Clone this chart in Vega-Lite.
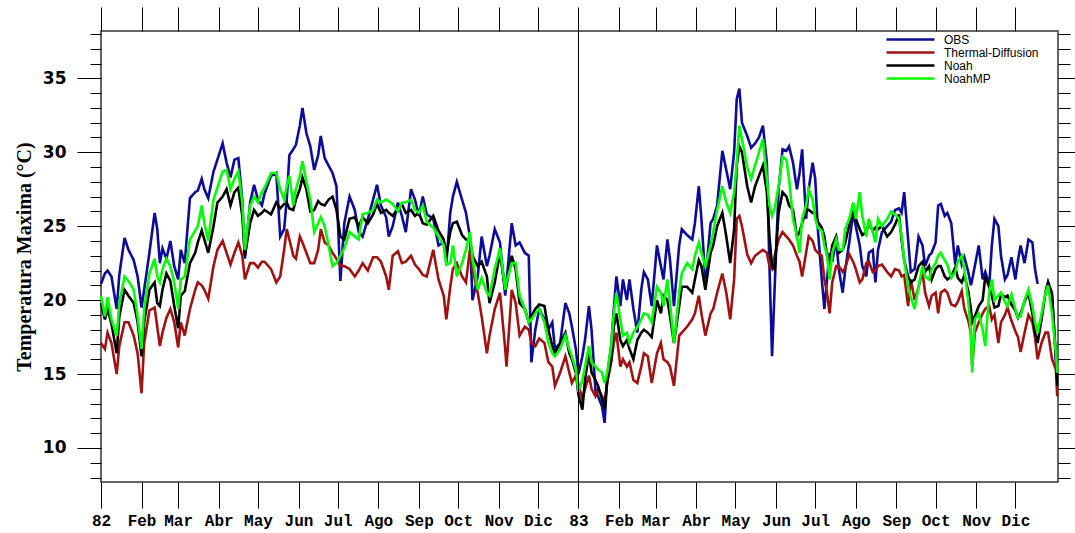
{
  "$schema": "https://vega.github.io/schema/vega-lite/v6.json",
  "width": 957,
  "height": 451,
  "autosize": {"type": "none"},
  "padding": {"left": 101, "top": 31, "right": 17, "bottom": 51},
  "background": "white",
  "config": {
    "view": {"stroke": "#333333", "strokeWidth": 1.5},
    "axis": {"tickWidth": 1, "tickColor": "black", "domain": false, "grid": false},
    "font": "Liberation Sans"
  },
  "datasets": {
    "temps": [
      {"date":"1982-01-01","OBS":21.1,"Thermal-Diffusion":17.1,"Noah":19.8,"NoahMP":20.3},
      {"date":"1982-01-04","OBS":21.8,"Thermal-Diffusion":16.7,"Noah":18.7,"NoahMP":18.9},
      {"date":"1982-01-06","OBS":22.0,"Thermal-Diffusion":17.8,"Noah":19.4,"NoahMP":20.2},
      {"date":"1982-01-09","OBS":21.6,"Thermal-Diffusion":17.1,"Noah":18.4,"NoahMP":18.7},
      {"date":"1982-01-13","OBS":19.4,"Thermal-Diffusion":15.0,"Noah":16.4,"NoahMP":17.6},
      {"date":"1982-01-15","OBS":21.7,"Thermal-Diffusion":16.9,"Noah":18.9,"NoahMP":19.8},
      {"date":"1982-01-19","OBS":24.2,"Thermal-Diffusion":18.5,"Noah":20.7,"NoahMP":21.6},
      {"date":"1982-01-22","OBS":23.4,"Thermal-Diffusion":18.5,"Noah":20.3,"NoahMP":21.3},
      {"date":"1982-01-26","OBS":22.7,"Thermal-Diffusion":17.6,"Noah":19.8,"NoahMP":20.7},
      {"date":"1982-01-29","OBS":21.6,"Thermal-Diffusion":16.4,"Noah":18.5,"NoahMP":18.9},
      {"date":"1982-02-01","OBS":19.5,"Thermal-Diffusion":13.7,"Noah":16.2,"NoahMP":16.7},
      {"date":"1982-02-03","OBS":20.7,"Thermal-Diffusion":17.1,"Noah":18.5,"NoahMP":19.4},
      {"date":"1982-02-07","OBS":23.2,"Thermal-Diffusion":19.3,"Noah":20.7,"NoahMP":21.8},
      {"date":"1982-02-11","OBS":25.9,"Thermal-Diffusion":19.5,"Noah":21.2,"NoahMP":22.8},
      {"date":"1982-02-13","OBS":24.8,"Thermal-Diffusion":18.2,"Noah":19.8,"NoahMP":21.6},
      {"date":"1982-02-15","OBS":22.5,"Thermal-Diffusion":16.9,"Noah":19.6,"NoahMP":21.2},
      {"date":"1982-02-17","OBS":23.5,"Thermal-Diffusion":17.8,"Noah":20.7,"NoahMP":22.1},
      {"date":"1982-02-20","OBS":22.8,"Thermal-Diffusion":18.8,"Noah":21.8,"NoahMP":22.8},
      {"date":"1982-02-23","OBS":24.0,"Thermal-Diffusion":19.4,"Noah":21.3,"NoahMP":22.3},
      {"date":"1982-02-26","OBS":22.3,"Thermal-Diffusion":18.5,"Noah":19.6,"NoahMP":21.2},
      {"date":"1982-03-01","OBS":21.4,"Thermal-Diffusion":16.8,"Noah":18.1,"NoahMP":19.4},
      {"date":"1982-03-03","OBS":23.4,"Thermal-Diffusion":18.5,"Noah":20.3,"NoahMP":21.4},
      {"date":"1982-03-06","OBS":22.5,"Thermal-Diffusion":17.6,"Noah":20.6,"NoahMP":21.6},
      {"date":"1982-03-10","OBS":26.9,"Thermal-Diffusion":19.4,"Noah":22.5,"NoahMP":24.1},
      {"date":"1982-03-14","OBS":27.3,"Thermal-Diffusion":20.7,"Noah":23.2,"NoahMP":24.7},
      {"date":"1982-03-16","OBS":27.4,"Thermal-Diffusion":21.2,"Noah":23.9,"NoahMP":25.0},
      {"date":"1982-03-19","OBS":28.2,"Thermal-Diffusion":21.0,"Noah":24.7,"NoahMP":26.4},
      {"date":"1982-03-21","OBS":27.5,"Thermal-Diffusion":20.7,"Noah":24.1,"NoahMP":25.2},
      {"date":"1982-03-24","OBS":26.9,"Thermal-Diffusion":20.1,"Noah":23.2,"NoahMP":24.0},
      {"date":"1982-03-28","OBS":28.7,"Thermal-Diffusion":22.3,"Noah":25.0,"NoahMP":26.8},
      {"date":"1982-03-31","OBS":29.5,"Thermal-Diffusion":23.4,"Noah":26.6,"NoahMP":27.6},
      {"date":"1982-04-04","OBS":30.6,"Thermal-Diffusion":24.0,"Noah":27.0,"NoahMP":28.7},
      {"date":"1982-04-07","OBS":29.3,"Thermal-Diffusion":23.2,"Noah":27.5,"NoahMP":28.8},
      {"date":"1982-04-10","OBS":28.3,"Thermal-Diffusion":22.4,"Noah":26.4,"NoahMP":27.5},
      {"date":"1982-04-13","OBS":29.5,"Thermal-Diffusion":23.2,"Noah":27.3,"NoahMP":28.2},
      {"date":"1982-04-16","OBS":29.6,"Thermal-Diffusion":23.9,"Noah":27.6,"NoahMP":28.7},
      {"date":"1982-04-19","OBS":26.8,"Thermal-Diffusion":23.0,"Noah":25.7,"NoahMP":26.6},
      {"date":"1982-04-21","OBS":22.8,"Thermal-Diffusion":21.4,"Noah":23.0,"NoahMP":23.4},
      {"date":"1982-04-25","OBS":26.6,"Thermal-Diffusion":22.5,"Noah":25.2,"NoahMP":26.4},
      {"date":"1982-04-28","OBS":27.8,"Thermal-Diffusion":22.5,"Noah":26.1,"NoahMP":27.0},
      {"date":"1982-05-01","OBS":26.8,"Thermal-Diffusion":22.2,"Noah":25.7,"NoahMP":26.6},
      {"date":"1982-05-04","OBS":26.4,"Thermal-Diffusion":22.6,"Noah":25.9,"NoahMP":27.3},
      {"date":"1982-05-06","OBS":27.2,"Thermal-Diffusion":22.6,"Noah":26.1,"NoahMP":27.6},
      {"date":"1982-05-11","OBS":28.4,"Thermal-Diffusion":22.1,"Noah":25.8,"NoahMP":28.6},
      {"date":"1982-05-15","OBS":28.6,"Thermal-Diffusion":21.2,"Noah":26.6,"NoahMP":28.6},
      {"date":"1982-05-18","OBS":24.3,"Thermal-Diffusion":21.6,"Noah":26.2,"NoahMP":27.5},
      {"date":"1982-05-21","OBS":24.8,"Thermal-Diffusion":23.4,"Noah":26.5,"NoahMP":26.8},
      {"date":"1982-05-23","OBS":26.8,"Thermal-Diffusion":24.8,"Noah":26.6,"NoahMP":27.7},
      {"date":"1982-05-25","OBS":29.8,"Thermal-Diffusion":24.1,"Noah":26.2,"NoahMP":28.4},
      {"date":"1982-05-28","OBS":30.2,"Thermal-Diffusion":23.0,"Noah":26.1,"NoahMP":26.4},
      {"date":"1982-05-30","OBS":30.5,"Thermal-Diffusion":22.8,"Noah":26.8,"NoahMP":27.5},
      {"date":"1982-06-02","OBS":31.8,"Thermal-Diffusion":24.3,"Noah":27.5,"NoahMP":28.4},
      {"date":"1982-06-04","OBS":33.0,"Thermal-Diffusion":23.9,"Noah":28.3,"NoahMP":29.4},
      {"date":"1982-06-07","OBS":31.3,"Thermal-Diffusion":23.2,"Noah":27.5,"NoahMP":28.0},
      {"date":"1982-06-10","OBS":30.4,"Thermal-Diffusion":22.5,"Noah":26.0,"NoahMP":26.8},
      {"date":"1982-06-13","OBS":28.8,"Thermal-Diffusion":22.5,"Noah":26.1,"NoahMP":24.6},
      {"date":"1982-06-16","OBS":29.8,"Thermal-Diffusion":23.4,"Noah":26.7,"NoahMP":25.2},
      {"date":"1982-06-18","OBS":31.1,"Thermal-Diffusion":24.8,"Noah":26.5,"NoahMP":25.6},
      {"date":"1982-06-21","OBS":29.6,"Thermal-Diffusion":23.9,"Noah":26.4,"NoahMP":25.0},
      {"date":"1982-06-24","OBS":29.1,"Thermal-Diffusion":23.7,"Noah":26.8,"NoahMP":23.7},
      {"date":"1982-06-27","OBS":28.6,"Thermal-Diffusion":23.2,"Noah":27.0,"NoahMP":22.3},
      {"date":"1982-06-30","OBS":27.7,"Thermal-Diffusion":22.8,"Noah":26.1,"NoahMP":22.5},
      {"date":"1982-07-03","OBS":21.3,"Thermal-Diffusion":22.3,"Noah":24.3,"NoahMP":23.0},
      {"date":"1982-07-06","OBS":25.2,"Thermal-Diffusion":22.3,"Noah":24.1,"NoahMP":23.5},
      {"date":"1982-07-10","OBS":27.0,"Thermal-Diffusion":22.1,"Noah":25.5,"NoahMP":24.6},
      {"date":"1982-07-14","OBS":26.1,"Thermal-Diffusion":21.6,"Noah":25.6,"NoahMP":24.3},
      {"date":"1982-07-17","OBS":24.6,"Thermal-Diffusion":22.0,"Noah":25.0,"NoahMP":24.1},
      {"date":"1982-07-20","OBS":24.3,"Thermal-Diffusion":22.5,"Noah":25.6,"NoahMP":25.8},
      {"date":"1982-07-24","OBS":25.5,"Thermal-Diffusion":22.0,"Noah":25.2,"NoahMP":25.9},
      {"date":"1982-07-28","OBS":26.8,"Thermal-Diffusion":22.9,"Noah":25.8,"NoahMP":26.1},
      {"date":"1982-07-31","OBS":27.8,"Thermal-Diffusion":22.9,"Noah":26.5,"NoahMP":26.8},
      {"date":"1982-08-03","OBS":26.4,"Thermal-Diffusion":22.6,"Noah":25.9,"NoahMP":26.6},
      {"date":"1982-08-07","OBS":25.6,"Thermal-Diffusion":21.6,"Noah":26.1,"NoahMP":26.8},
      {"date":"1982-08-09","OBS":24.3,"Thermal-Diffusion":20.7,"Noah":25.9,"NoahMP":26.7},
      {"date":"1982-08-12","OBS":25.0,"Thermal-Diffusion":23.0,"Noah":25.7,"NoahMP":26.5},
      {"date":"1982-08-16","OBS":26.6,"Thermal-Diffusion":23.3,"Noah":26.2,"NoahMP":26.0},
      {"date":"1982-08-19","OBS":25.7,"Thermal-Diffusion":22.5,"Noah":26.5,"NoahMP":26.6},
      {"date":"1982-08-22","OBS":24.6,"Thermal-Diffusion":22.6,"Noah":25.9,"NoahMP":26.6},
      {"date":"1982-08-26","OBS":27.5,"Thermal-Diffusion":23.0,"Noah":26.1,"NoahMP":26.8},
      {"date":"1982-08-29","OBS":26.8,"Thermal-Diffusion":22.4,"Noah":25.7,"NoahMP":26.1},
      {"date":"1982-09-01","OBS":25.7,"Thermal-Diffusion":22.1,"Noah":25.9,"NoahMP":25.9},
      {"date":"1982-09-04","OBS":27.0,"Thermal-Diffusion":21.7,"Noah":25.2,"NoahMP":26.4},
      {"date":"1982-09-07","OBS":25.8,"Thermal-Diffusion":21.6,"Noah":25.1,"NoahMP":25.3},
      {"date":"1982-09-12","OBS":25.5,"Thermal-Diffusion":23.4,"Noah":25.7,"NoahMP":24.9},
      {"date":"1982-09-16","OBS":23.7,"Thermal-Diffusion":21.4,"Noah":24.7,"NoahMP":24.3},
      {"date":"1982-09-20","OBS":23.9,"Thermal-Diffusion":20.3,"Noah":24.1,"NoahMP":23.7},
      {"date":"1982-09-22","OBS":22.5,"Thermal-Diffusion":18.7,"Noah":23.0,"NoahMP":22.4},
      {"date":"1982-09-25","OBS":25.9,"Thermal-Diffusion":20.9,"Noah":24.6,"NoahMP":22.5},
      {"date":"1982-09-27","OBS":27.0,"Thermal-Diffusion":22.1,"Noah":25.2,"NoahMP":23.7},
      {"date":"1982-09-30","OBS":28.0,"Thermal-Diffusion":22.5,"Noah":25.3,"NoahMP":21.6},
      {"date":"1982-10-04","OBS":26.8,"Thermal-Diffusion":21.6,"Noah":24.4,"NoahMP":22.5},
      {"date":"1982-10-07","OBS":25.9,"Thermal-Diffusion":21.2,"Noah":24.1,"NoahMP":23.4},
      {"date":"1982-10-10","OBS":24.3,"Thermal-Diffusion":23.4,"Noah":24.1,"NoahMP":24.6},
      {"date":"1982-10-12","OBS":20.0,"Thermal-Diffusion":22.1,"Noah":23.0,"NoahMP":22.8},
      {"date":"1982-10-16","OBS":21.6,"Thermal-Diffusion":20.5,"Noah":22.3,"NoahMP":20.7},
      {"date":"1982-10-19","OBS":24.3,"Thermal-Diffusion":18.9,"Noah":22.6,"NoahMP":21.5},
      {"date":"1982-10-23","OBS":22.3,"Thermal-Diffusion":16.4,"Noah":21.6,"NoahMP":20.5},
      {"date":"1982-10-25","OBS":23.0,"Thermal-Diffusion":17.6,"Noah":19.8,"NoahMP":20.3},
      {"date":"1982-10-29","OBS":24.8,"Thermal-Diffusion":19.4,"Noah":21.2,"NoahMP":22.1},
      {"date":"1982-11-02","OBS":23.9,"Thermal-Diffusion":20.5,"Noah":23.2,"NoahMP":23.5},
      {"date":"1982-11-06","OBS":20.3,"Thermal-Diffusion":16.7,"Noah":20.7,"NoahMP":20.7},
      {"date":"1982-11-07","OBS":21.2,"Thermal-Diffusion":15.5,"Noah":21.0,"NoahMP":21.2},
      {"date":"1982-11-11","OBS":25.2,"Thermal-Diffusion":20.7,"Noah":23.0,"NoahMP":22.5},
      {"date":"1982-11-14","OBS":23.7,"Thermal-Diffusion":19.8,"Noah":22.1,"NoahMP":22.5},
      {"date":"1982-11-17","OBS":23.9,"Thermal-Diffusion":17.6,"Noah":19.8,"NoahMP":20.3},
      {"date":"1982-11-21","OBS":23.2,"Thermal-Diffusion":18.2,"Noah":19.4,"NoahMP":19.4},
      {"date":"1982-11-24","OBS":23.0,"Thermal-Diffusion":18.0,"Noah":18.5,"NoahMP":18.5},
      {"date":"1982-11-26","OBS":15.8,"Thermal-Diffusion":17.1,"Noah":18.9,"NoahMP":18.7},
      {"date":"1982-11-29","OBS":18.0,"Thermal-Diffusion":16.9,"Noah":19.4,"NoahMP":19.1},
      {"date":"1982-12-02","OBS":19.4,"Thermal-Diffusion":17.4,"Noah":19.7,"NoahMP":19.4},
      {"date":"1982-12-06","OBS":18.7,"Thermal-Diffusion":17.1,"Noah":19.6,"NoahMP":18.5},
      {"date":"1982-12-09","OBS":18.0,"Thermal-Diffusion":15.8,"Noah":18.0,"NoahMP":17.1},
      {"date":"1982-12-12","OBS":18.5,"Thermal-Diffusion":15.5,"Noah":16.9,"NoahMP":16.4},
      {"date":"1982-12-14","OBS":16.7,"Thermal-Diffusion":14.2,"Noah":16.4,"NoahMP":16.2},
      {"date":"1982-12-18","OBS":17.1,"Thermal-Diffusion":15.1,"Noah":17.1,"NoahMP":16.7},
      {"date":"1982-12-22","OBS":19.8,"Thermal-Diffusion":16.2,"Noah":17.8,"NoahMP":17.6},
      {"date":"1982-12-25","OBS":19.1,"Thermal-Diffusion":15.1,"Noah":16.4,"NoahMP":16.7},
      {"date":"1982-12-27","OBS":18.2,"Thermal-Diffusion":14.4,"Noah":16.0,"NoahMP":16.2},
      {"date":"1982-12-30","OBS":16.7,"Thermal-Diffusion":14.9,"Noah":15.1,"NoahMP":15.3},
      {"date":"1983-01-01","OBS":15.0,"Thermal-Diffusion":14.3,"Noah":13.6,"NoahMP":13.8},
      {"date":"1983-01-04","OBS":16.2,"Thermal-Diffusion":13.3,"Noah":12.6,"NoahMP":14.6},
      {"date":"1983-01-06","OBS":17.3,"Thermal-Diffusion":14.0,"Noah":14.6,"NoahMP":15.5},
      {"date":"1983-01-09","OBS":19.6,"Thermal-Diffusion":14.9,"Noah":16.4,"NoahMP":16.9},
      {"date":"1983-01-11","OBS":18.0,"Thermal-Diffusion":14.0,"Noah":15.1,"NoahMP":15.8},
      {"date":"1983-01-14","OBS":13.9,"Thermal-Diffusion":13.5,"Noah":14.6,"NoahMP":15.5},
      {"date":"1983-01-16","OBS":13.5,"Thermal-Diffusion":14.0,"Noah":14.2,"NoahMP":15.3},
      {"date":"1983-01-19","OBS":12.8,"Thermal-Diffusion":13.5,"Noah":13.3,"NoahMP":15.1},
      {"date":"1983-01-21","OBS":11.7,"Thermal-Diffusion":13.1,"Noah":12.6,"NoahMP":14.4},
      {"date":"1983-01-23","OBS":14.9,"Thermal-Diffusion":14.4,"Noah":14.6,"NoahMP":15.1},
      {"date":"1983-01-26","OBS":16.9,"Thermal-Diffusion":15.8,"Noah":16.0,"NoahMP":16.9},
      {"date":"1983-01-28","OBS":19.4,"Thermal-Diffusion":17.1,"Noah":18.2,"NoahMP":19.1},
      {"date":"1983-01-30","OBS":21.6,"Thermal-Diffusion":17.8,"Noah":19.1,"NoahMP":20.5},
      {"date":"1983-02-02","OBS":19.6,"Thermal-Diffusion":15.5,"Noah":17.3,"NoahMP":18.7},
      {"date":"1983-02-04","OBS":21.4,"Thermal-Diffusion":16.0,"Noah":16.9,"NoahMP":17.6},
      {"date":"1983-02-07","OBS":20.0,"Thermal-Diffusion":15.5,"Noah":17.3,"NoahMP":17.8},
      {"date":"1983-02-09","OBS":21.4,"Thermal-Diffusion":15.8,"Noah":16.7,"NoahMP":17.1},
      {"date":"1983-02-12","OBS":19.4,"Thermal-Diffusion":14.6,"Noah":16.0,"NoahMP":17.8},
      {"date":"1983-02-15","OBS":17.8,"Thermal-Diffusion":14.4,"Noah":17.3,"NoahMP":18.2},
      {"date":"1983-02-18","OBS":20.7,"Thermal-Diffusion":15.5,"Noah":17.8,"NoahMP":18.7},
      {"date":"1983-02-20","OBS":21.9,"Thermal-Diffusion":16.4,"Noah":18.0,"NoahMP":19.1},
      {"date":"1983-02-23","OBS":21.4,"Thermal-Diffusion":16.2,"Noah":17.8,"NoahMP":19.0},
      {"date":"1983-02-26","OBS":19.6,"Thermal-Diffusion":14.4,"Noah":17.5,"NoahMP":18.5},
      {"date":"1983-03-02","OBS":23.7,"Thermal-Diffusion":16.4,"Noah":20.0,"NoahMP":20.9},
      {"date":"1983-03-05","OBS":22.3,"Thermal-Diffusion":17.1,"Noah":19.1,"NoahMP":20.5},
      {"date":"1983-03-07","OBS":21.4,"Thermal-Diffusion":16.0,"Noah":20.3,"NoahMP":19.6},
      {"date":"1983-03-10","OBS":24.1,"Thermal-Diffusion":15.8,"Noah":20.0,"NoahMP":21.4},
      {"date":"1983-03-12","OBS":22.7,"Thermal-Diffusion":15.5,"Noah":18.9,"NoahMP":19.8},
      {"date":"1983-03-15","OBS":19.6,"Thermal-Diffusion":14.2,"Noah":17.1,"NoahMP":17.1},
      {"date":"1983-03-19","OBS":23.7,"Thermal-Diffusion":17.6,"Noah":19.6,"NoahMP":20.5},
      {"date":"1983-03-21","OBS":24.8,"Thermal-Diffusion":17.8,"Noah":20.9,"NoahMP":21.8},
      {"date":"1983-03-25","OBS":24.4,"Thermal-Diffusion":18.2,"Noah":20.9,"NoahMP":22.5},
      {"date":"1983-03-29","OBS":24.1,"Thermal-Diffusion":18.7,"Noah":20.5,"NoahMP":22.1},
      {"date":"1983-03-31","OBS":25.2,"Thermal-Diffusion":19.1,"Noah":21.4,"NoahMP":23.0},
      {"date":"1983-04-03","OBS":27.7,"Thermal-Diffusion":20.3,"Noah":22.7,"NoahMP":23.9},
      {"date":"1983-04-05","OBS":25.5,"Thermal-Diffusion":19.1,"Noah":22.3,"NoahMP":23.2},
      {"date":"1983-04-08","OBS":21.4,"Thermal-Diffusion":17.6,"Noah":20.7,"NoahMP":22.3},
      {"date":"1983-04-12","OBS":25.2,"Thermal-Diffusion":19.1,"Noah":23.2,"NoahMP":23.7},
      {"date":"1983-04-14","OBS":25.5,"Thermal-Diffusion":19.4,"Noah":23.7,"NoahMP":24.6},
      {"date":"1983-04-17","OBS":26.4,"Thermal-Diffusion":20.5,"Noah":25.0,"NoahMP":26.1},
      {"date":"1983-04-21","OBS":30.1,"Thermal-Diffusion":21.8,"Noah":25.9,"NoahMP":27.7},
      {"date":"1983-04-24","OBS":28.8,"Thermal-Diffusion":20.5,"Noah":24.3,"NoahMP":26.6},
      {"date":"1983-04-27","OBS":27.5,"Thermal-Diffusion":18.7,"Noah":22.5,"NoahMP":25.9},
      {"date":"1983-04-30","OBS":30.0,"Thermal-Diffusion":21.4,"Noah":24.8,"NoahMP":27.3},
      {"date":"1983-05-02","OBS":33.6,"Thermal-Diffusion":25.5,"Noah":29.1,"NoahMP":29.3},
      {"date":"1983-05-04","OBS":34.3,"Thermal-Diffusion":25.7,"Noah":30.4,"NoahMP":31.8},
      {"date":"1983-05-06","OBS":32.0,"Thermal-Diffusion":25.0,"Noah":30.0,"NoahMP":30.9},
      {"date":"1983-05-10","OBS":31.1,"Thermal-Diffusion":23.1,"Noah":27.7,"NoahMP":29.0},
      {"date":"1983-05-13","OBS":30.3,"Thermal-Diffusion":22.5,"Noah":26.6,"NoahMP":28.2},
      {"date":"1983-05-16","OBS":30.6,"Thermal-Diffusion":23.0,"Noah":27.7,"NoahMP":29.1},
      {"date":"1983-05-19","OBS":31.0,"Thermal-Diffusion":23.2,"Noah":28.4,"NoahMP":30.0},
      {"date":"1983-05-22","OBS":31.8,"Thermal-Diffusion":23.4,"Noah":29.1,"NoahMP":30.9},
      {"date":"1983-05-25","OBS":29.3,"Thermal-Diffusion":23.2,"Noah":27.3,"NoahMP":28.2},
      {"date":"1983-05-27","OBS":22.3,"Thermal-Diffusion":22.3,"Noah":24.3,"NoahMP":26.4},
      {"date":"1983-05-29","OBS":16.2,"Thermal-Diffusion":22.1,"Noah":22.3,"NoahMP":25.7},
      {"date":"1983-05-31","OBS":20.9,"Thermal-Diffusion":23.0,"Noah":22.1,"NoahMP":26.2},
      {"date":"1983-06-03","OBS":27.5,"Thermal-Diffusion":24.1,"Noah":25.9,"NoahMP":27.7},
      {"date":"1983-06-06","OBS":30.2,"Thermal-Diffusion":24.6,"Noah":27.3,"NoahMP":29.7},
      {"date":"1983-06-09","OBS":30.1,"Thermal-Diffusion":24.3,"Noah":27.0,"NoahMP":29.5},
      {"date":"1983-06-11","OBS":30.4,"Thermal-Diffusion":24.1,"Noah":26.4,"NoahMP":28.2},
      {"date":"1983-06-14","OBS":29.3,"Thermal-Diffusion":23.7,"Noah":26.1,"NoahMP":25.5},
      {"date":"1983-06-17","OBS":27.5,"Thermal-Diffusion":23.0,"Noah":24.3,"NoahMP":24.3},
      {"date":"1983-06-19","OBS":28.6,"Thermal-Diffusion":22.6,"Noah":24.6,"NoahMP":23.2},
      {"date":"1983-06-21","OBS":30.2,"Thermal-Diffusion":21.6,"Noah":25.2,"NoahMP":25.5},
      {"date":"1983-06-24","OBS":25.5,"Thermal-Diffusion":23.2,"Noah":26.1,"NoahMP":26.4},
      {"date":"1983-06-26","OBS":27.5,"Thermal-Diffusion":24.3,"Noah":26.1,"NoahMP":27.5},
      {"date":"1983-06-29","OBS":29.3,"Thermal-Diffusion":24.0,"Noah":25.9,"NoahMP":26.8},
      {"date":"1983-07-01","OBS":28.2,"Thermal-Diffusion":23.4,"Noah":25.9,"NoahMP":25.5},
      {"date":"1983-07-03","OBS":24.8,"Thermal-Diffusion":23.2,"Noah":25.3,"NoahMP":24.9},
      {"date":"1983-07-06","OBS":21.4,"Thermal-Diffusion":23.0,"Noah":24.9,"NoahMP":24.7},
      {"date":"1983-07-08","OBS":19.4,"Thermal-Diffusion":21.4,"Noah":24.3,"NoahMP":23.7},
      {"date":"1983-07-10","OBS":21.4,"Thermal-Diffusion":20.5,"Noah":23.0,"NoahMP":23.0},
      {"date":"1983-07-12","OBS":23.2,"Thermal-Diffusion":19.1,"Noah":22.3,"NoahMP":21.4},
      {"date":"1983-07-14","OBS":22.6,"Thermal-Diffusion":21.2,"Noah":23.7,"NoahMP":23.2},
      {"date":"1983-07-17","OBS":24.1,"Thermal-Diffusion":22.3,"Noah":24.3,"NoahMP":24.1},
      {"date":"1983-07-19","OBS":22.1,"Thermal-Diffusion":22.3,"Noah":23.2,"NoahMP":23.4},
      {"date":"1983-07-22","OBS":20.5,"Thermal-Diffusion":21.9,"Noah":23.4,"NoahMP":23.4},
      {"date":"1983-07-24","OBS":22.1,"Thermal-Diffusion":22.2,"Noah":23.9,"NoahMP":24.8},
      {"date":"1983-07-27","OBS":23.9,"Thermal-Diffusion":23.1,"Noah":25.1,"NoahMP":25.5},
      {"date":"1983-07-30","OBS":25.9,"Thermal-Diffusion":22.6,"Noah":25.9,"NoahMP":26.6},
      {"date":"1983-08-01","OBS":25.0,"Thermal-Diffusion":22.1,"Noah":25.5,"NoahMP":25.5},
      {"date":"1983-08-04","OBS":23.7,"Thermal-Diffusion":21.2,"Noah":24.8,"NoahMP":27.3},
      {"date":"1983-08-06","OBS":22.3,"Thermal-Diffusion":21.4,"Noah":24.4,"NoahMP":25.7},
      {"date":"1983-08-09","OBS":21.6,"Thermal-Diffusion":22.5,"Noah":24.6,"NoahMP":24.3},
      {"date":"1983-08-11","OBS":23.2,"Thermal-Diffusion":22.6,"Noah":25.2,"NoahMP":25.5},
      {"date":"1983-08-14","OBS":23.4,"Thermal-Diffusion":21.9,"Noah":24.7,"NoahMP":24.6},
      {"date":"1983-08-16","OBS":21.2,"Thermal-Diffusion":22.0,"Noah":24.9,"NoahMP":23.9},
      {"date":"1983-08-18","OBS":23.4,"Thermal-Diffusion":22.3,"Noah":24.8,"NoahMP":25.5},
      {"date":"1983-08-21","OBS":24.6,"Thermal-Diffusion":22.4,"Noah":25.0,"NoahMP":25.0},
      {"date":"1983-08-25","OBS":25.0,"Thermal-Diffusion":21.9,"Noah":24.3,"NoahMP":25.5},
      {"date":"1983-08-28","OBS":25.3,"Thermal-Diffusion":21.6,"Noah":24.6,"NoahMP":26.0},
      {"date":"1983-08-31","OBS":26.1,"Thermal-Diffusion":22.1,"Noah":25.1,"NoahMP":25.8},
      {"date":"1983-09-03","OBS":26.2,"Thermal-Diffusion":22.0,"Noah":25.8,"NoahMP":25.5},
      {"date":"1983-09-05","OBS":25.9,"Thermal-Diffusion":21.6,"Noah":24.1,"NoahMP":24.3},
      {"date":"1983-09-07","OBS":27.3,"Thermal-Diffusion":21.7,"Noah":22.7,"NoahMP":22.7},
      {"date":"1983-09-10","OBS":24.1,"Thermal-Diffusion":19.6,"Noah":21.6,"NoahMP":20.9},
      {"date":"1983-09-12","OBS":21.9,"Thermal-Diffusion":21.4,"Noah":21.2,"NoahMP":20.2},
      {"date":"1983-09-15","OBS":22.1,"Thermal-Diffusion":20.0,"Noah":21.4,"NoahMP":19.4},
      {"date":"1983-09-18","OBS":24.3,"Thermal-Diffusion":20.9,"Noah":22.3,"NoahMP":20.9},
      {"date":"1983-09-21","OBS":23.7,"Thermal-Diffusion":21.9,"Noah":22.6,"NoahMP":22.3},
      {"date":"1983-09-23","OBS":22.3,"Thermal-Diffusion":20.5,"Noah":21.9,"NoahMP":21.6},
      {"date":"1983-09-26","OBS":23.0,"Thermal-Diffusion":19.6,"Noah":22.3,"NoahMP":21.4},
      {"date":"1983-09-28","OBS":23.2,"Thermal-Diffusion":20.3,"Noah":21.4,"NoahMP":22.1},
      {"date":"1983-10-01","OBS":23.9,"Thermal-Diffusion":20.5,"Noah":22.1,"NoahMP":22.5},
      {"date":"1983-10-03","OBS":26.4,"Thermal-Diffusion":19.1,"Noah":22.3,"NoahMP":23.0},
      {"date":"1983-10-05","OBS":26.5,"Thermal-Diffusion":20.5,"Noah":22.3,"NoahMP":23.2},
      {"date":"1983-10-08","OBS":25.7,"Thermal-Diffusion":20.7,"Noah":21.6,"NoahMP":22.7},
      {"date":"1983-10-10","OBS":25.9,"Thermal-Diffusion":20.5,"Noah":21.4,"NoahMP":22.4},
      {"date":"1983-10-13","OBS":25.2,"Thermal-Diffusion":19.7,"Noah":21.6,"NoahMP":21.5},
      {"date":"1983-10-16","OBS":22.4,"Thermal-Diffusion":19.6,"Noah":22.2,"NoahMP":21.9},
      {"date":"1983-10-18","OBS":23.7,"Thermal-Diffusion":19.9,"Noah":21.5,"NoahMP":22.6},
      {"date":"1983-10-21","OBS":22.4,"Thermal-Diffusion":20.6,"Noah":21.2,"NoahMP":23.0},
      {"date":"1983-10-23","OBS":22.9,"Thermal-Diffusion":19.4,"Noah":21.7,"NoahMP":22.1},
      {"date":"1983-10-26","OBS":21.9,"Thermal-Diffusion":18.6,"Noah":20.6,"NoahMP":19.9},
      {"date":"1983-10-28","OBS":21.0,"Thermal-Diffusion":17.8,"Noah":19.4,"NoahMP":17.8},
      {"date":"1983-10-29","OBS":21.4,"Thermal-Diffusion":15.5,"Noah":18.5,"NoahMP":15.1},
      {"date":"1983-10-31","OBS":22.3,"Thermal-Diffusion":17.8,"Noah":18.9,"NoahMP":18.7},
      {"date":"1983-11-03","OBS":23.7,"Thermal-Diffusion":18.5,"Noah":19.6,"NoahMP":19.1},
      {"date":"1983-11-06","OBS":21.4,"Thermal-Diffusion":19.1,"Noah":20.0,"NoahMP":18.0},
      {"date":"1983-11-08","OBS":21.9,"Thermal-Diffusion":19.4,"Noah":21.6,"NoahMP":16.9},
      {"date":"1983-11-11","OBS":21.0,"Thermal-Diffusion":19.6,"Noah":20.9,"NoahMP":20.5},
      {"date":"1983-11-13","OBS":23.7,"Thermal-Diffusion":18.7,"Noah":20.3,"NoahMP":21.4},
      {"date":"1983-11-15","OBS":25.5,"Thermal-Diffusion":19.0,"Noah":19.5,"NoahMP":20.0},
      {"date":"1983-11-18","OBS":25.0,"Thermal-Diffusion":17.1,"Noah":19.6,"NoahMP":20.3},
      {"date":"1983-11-20","OBS":23.0,"Thermal-Diffusion":18.5,"Noah":20.4,"NoahMP":20.5},
      {"date":"1983-11-23","OBS":21.4,"Thermal-Diffusion":19.0,"Noah":20.2,"NoahMP":19.9},
      {"date":"1983-11-25","OBS":21.7,"Thermal-Diffusion":19.5,"Noah":20.3,"NoahMP":19.6},
      {"date":"1983-11-28","OBS":22.9,"Thermal-Diffusion":18.6,"Noah":19.7,"NoahMP":20.4},
      {"date":"1983-12-01","OBS":21.4,"Thermal-Diffusion":17.9,"Noah":19.3,"NoahMP":19.4},
      {"date":"1983-12-03","OBS":22.7,"Thermal-Diffusion":17.5,"Noah":18.8,"NoahMP":18.8},
      {"date":"1983-12-05","OBS":23.7,"Thermal-Diffusion":16.5,"Noah":19.1,"NoahMP":18.9},
      {"date":"1983-12-08","OBS":22.5,"Thermal-Diffusion":17.8,"Noah":19.9,"NoahMP":20.0},
      {"date":"1983-12-11","OBS":24.1,"Thermal-Diffusion":19.0,"Noah":20.5,"NoahMP":20.7},
      {"date":"1983-12-14","OBS":23.9,"Thermal-Diffusion":18.5,"Noah":19.1,"NoahMP":19.6},
      {"date":"1983-12-16","OBS":22.1,"Thermal-Diffusion":17.5,"Noah":17.8,"NoahMP":18.5},
      {"date":"1983-12-18","OBS":21.1,"Thermal-Diffusion":16.0,"Noah":17.1,"NoahMP":17.8},
      {"date":"1983-12-21","OBS":null,"Thermal-Diffusion":17.1,"Noah":18.7,"NoahMP":19.1},
      {"date":"1983-12-24","OBS":20.5,"Thermal-Diffusion":17.8,"Noah":20.5,"NoahMP":20.5},
      {"date":"1983-12-26","OBS":21.2,"Thermal-Diffusion":17.8,"Noah":21.2,"NoahMP":21.0},
      {"date":"1983-12-29","OBS":20.5,"Thermal-Diffusion":16.0,"Noah":20.3,"NoahMP":19.1},
      {"date":"1984-01-01","OBS":15.8,"Thermal-Diffusion":15.3,"Noah":16.2,"NoahMP":16.4},
      {"date":"1984-01-02","OBS":14.6,"Thermal-Diffusion":13.5,"Noah":14.2,"NoahMP":15.1}
    ],
    "newyear": [{"d": "1983-01-01"}],
    "yext": [{"v": 8}, {"v": 38}]
  },
  "resolve": {"axis": {"x": "independent", "y": "independent"}},
  "layer": [
    {
      "data": {"name": "temps"},
      "transform": [{"fold": ["OBS", "Thermal-Diffusion", "Noah", "NoahMP"], "as": ["series", "value"]}],
      "mark": {"type": "line", "strokeWidth": 2.6, "invalid": "break-paths-show-domains"},
      "encoding": {
        "x": {
          "field": "date", "type": "temporal",
          "scale": {"type": "utc", "domain": [{"year": 1982, "month": 1, "date": 1, "utc": true}, {"year": 1984, "month": 1, "date": 2, "hours": 14, "utc": true}]},
          "axis": {
            "orient": "bottom", "title": null, "tickSize": 26, "labelPadding": 4,
            "labelFont": "Liberation Mono", "labelFontWeight": "bold", "labelFontSize": 16, "labelColor": "black",
            "labelFlush": false, "labelOverlap": false,
            "labelExpr": "utcmonth(datum.value) == 0 ? utcFormat(datum.value, '%y') : ['Ene','Feb','Mar','Abr','May','Jun','Jul','Ago','Sep','Oct','Nov','Dic'][utcmonth(datum.value)]",
            "values": [
              {"year":1982,"month":1,"date":1,"utc":true},{"year":1982,"month":2,"date":1,"utc":true},{"year":1982,"month":3,"date":1,"utc":true},{"year":1982,"month":4,"date":1,"utc":true},
              {"year":1982,"month":5,"date":1,"utc":true},{"year":1982,"month":6,"date":1,"utc":true},{"year":1982,"month":7,"date":1,"utc":true},{"year":1982,"month":8,"date":1,"utc":true},
              {"year":1982,"month":9,"date":1,"utc":true},{"year":1982,"month":10,"date":1,"utc":true},{"year":1982,"month":11,"date":1,"utc":true},{"year":1982,"month":12,"date":1,"utc":true},
              {"year":1983,"month":1,"date":1,"utc":true},{"year":1983,"month":2,"date":1,"utc":true},{"year":1983,"month":3,"date":1,"utc":true},{"year":1983,"month":4,"date":1,"utc":true},
              {"year":1983,"month":5,"date":1,"utc":true},{"year":1983,"month":6,"date":1,"utc":true},{"year":1983,"month":7,"date":1,"utc":true},{"year":1983,"month":8,"date":1,"utc":true},
              {"year":1983,"month":9,"date":1,"utc":true},{"year":1983,"month":10,"date":1,"utc":true},{"year":1983,"month":11,"date":1,"utc":true},{"year":1983,"month":12,"date":1,"utc":true}
            ]
          }
        },
        "y": {
          "field": "value", "type": "quantitative",
          "scale": {"domain": [7.7, 38.2], "nice": false, "zero": false},
          "axis": {
            "orient": "left", "values": [10, 15, 20, 25, 30, 35], "tickSize": 24, "labelPadding": 11,
            "labelFont": "DejaVu Sans", "labelFontWeight": "bold", "labelFontSize": 17, "labelColor": "black",
            "title": "Temperatura Maxima (°C)", "titleFont": "Liberation Serif", "titleFontWeight": "bold",
            "titleFontSize": 20, "titleColor": "black", "titlePadding": 8
          }
        },
        "color": {
          "field": "series", "type": "nominal",
          "scale": {"domain": ["OBS", "Thermal-Diffusion", "Noah", "NoahMP"], "range": ["#0c0c99", "#a01212", "#000000", "#00ff00"]},
          "legend": {
            "orient": "none", "legendX": 784, "legendY": 2, "title": null, "padding": 0,
            "symbolType": "stroke", "symbolSize": 2304, "symbolStrokeWidth": 2.5, "clipHeight": 13,
            "labelFont": "Liberation Sans", "labelFontSize": 12, "labelColor": "black", "labelOffset": 8, "rowPadding": 0
          }
        }
      }
    },
    {
      "data": {"name": "newyear"},
      "mark": {"type": "rule", "color": "black", "strokeWidth": 1},
      "encoding": {
        "x": {
          "field": "d", "type": "temporal",
          "scale": {"type": "utc", "domain": [{"year": 1982, "month": 1, "date": 1, "utc": true}, {"year": 1984, "month": 1, "date": 2, "hours": 14, "utc": true}]},
          "axis": {
            "orient": "top", "title": null, "labels": false, "tickSize": 24,
            "values": [
              {"year":1982,"month":1,"date":1,"utc":true},{"year":1982,"month":2,"date":1,"utc":true},{"year":1982,"month":3,"date":1,"utc":true},{"year":1982,"month":4,"date":1,"utc":true},
              {"year":1982,"month":5,"date":1,"utc":true},{"year":1982,"month":6,"date":1,"utc":true},{"year":1982,"month":7,"date":1,"utc":true},{"year":1982,"month":8,"date":1,"utc":true},
              {"year":1982,"month":9,"date":1,"utc":true},{"year":1982,"month":10,"date":1,"utc":true},{"year":1982,"month":11,"date":1,"utc":true},{"year":1982,"month":12,"date":1,"utc":true},
              {"year":1983,"month":1,"date":1,"utc":true},{"year":1983,"month":2,"date":1,"utc":true},{"year":1983,"month":3,"date":1,"utc":true},{"year":1983,"month":4,"date":1,"utc":true},
              {"year":1983,"month":5,"date":1,"utc":true},{"year":1983,"month":6,"date":1,"utc":true},{"year":1983,"month":7,"date":1,"utc":true},{"year":1983,"month":8,"date":1,"utc":true},
              {"year":1983,"month":9,"date":1,"utc":true},{"year":1983,"month":10,"date":1,"utc":true},{"year":1983,"month":11,"date":1,"utc":true},{"year":1983,"month":12,"date":1,"utc":true}
            ]
          }
        }
      }
    },
    {
      "data": {"name": "yext"},
      "mark": {"type": "point", "opacity": 0, "size": 1},
      "encoding": {
        "y": {
          "field": "v", "type": "quantitative",
          "scale": {"domain": [7.7, 38.2], "nice": false, "zero": false},
          "axis": {"orient": "left", "title": null, "labels": false, "tickSize": 11,
            "values": [8,9,10,11,12,13,14,15,16,17,18,19,20,21,22,23,24,25,26,27,28,29,30,31,32,33,34,35,36,37,38]}
        }
      }
    },
    {
      "data": {"name": "yext"},
      "mark": {"type": "point", "opacity": 0, "size": 1},
      "encoding": {
        "y": {
          "field": "v", "type": "quantitative",
          "scale": {"domain": [7.7, 38.2], "nice": false, "zero": false},
          "axis": {"orient": "right", "title": null, "labels": false, "tickSize": 24, "values": [10, 15, 20, 25, 30, 35]}
        }
      }
    },
    {
      "data": {"name": "yext"},
      "mark": {"type": "point", "opacity": 0, "size": 1},
      "encoding": {
        "y": {
          "field": "v", "type": "quantitative",
          "scale": {"domain": [7.7, 38.2], "nice": false, "zero": false},
          "axis": {"orient": "right", "title": null, "labels": false, "tickSize": 12,
            "values": [8,9,10,11,12,13,14,15,16,17,18,19,20,21,22,23,24,25,26,27,28,29,30,31,32,33,34,35,36,37,38]}
        }
      }
    }
  ]
}
